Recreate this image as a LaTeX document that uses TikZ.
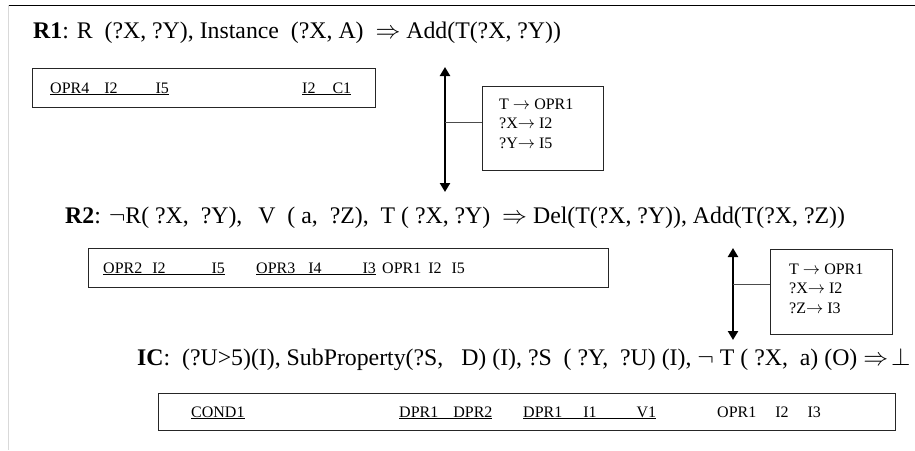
\documentclass[tikz,border=0pt]{standalone}
\usepackage{fontspec}
\setmainfont{Liberation Serif}
\usetikzlibrary{arrows.meta}
\begin{document}
\begin{tikzpicture}[x=1pt,y=-1pt,
  rule/.style={font=\fontsize{23.8}{26}\selectfont, anchor=base west, inner sep=0pt},
  cell/.style={font=\fontsize{16}{18}\selectfont, anchor=base west, inner sep=0pt},
  frame/.style={draw=black!85, line width=1pt, inner sep=0pt, anchor=north west},
  maptext/.style={font=\fontsize{16}{19.5}\selectfont, align=left, anchor=base west, inner sep=0pt},
  link/.style={line width=2.6pt, {Triangle[length=9pt,width=10pt]}-{Triangle[length=9pt,width=10pt]}},
  tie/.style={line width=0.9pt, draw=black!70}]
\useasboundingbox (0,0) rectangle (915,450);
% page rules
\draw[line width=1pt] (8,5) -- (915,5);
\draw[black!15, line width=1pt] (8,5) -- (8,450);

% ---- rule R1 ----
\node[rule] (r1) at (33,38)
  {\textbf{R1}: R\ \ (?X, ?Y), Instance\ \ (?X, A)\ \ $\Rightarrow$ Add(T(?X, ?Y))};
\node[frame, minimum width=343pt, minimum height=39pt] (b1) at (32,68) {};
\node[cell] (b1a) at (50,93) {\underline{OPR4\hspace{15pt}I2\hspace{38pt}I5}};
\node[cell] (b1b) at (302,93) {\underline{I2\hspace{17pt}C1}};

\coordinate (a1t) at (445,67);
\coordinate (a1b) at (445,192);
\draw[link] (a1t) -- (a1b);
\node[frame, minimum width=121pt, minimum height=84pt] (m1) at (482,86) {};
\coordinate (a1m) at (445,122);
\draw[tie] (a1m) -- (a1m -| m1.west);
% base anchor of a multi-line node sits on its last line
\node[maptext] (m1t) at (499,148) {T $\rightarrow$ OPR1\\?X$\rightarrow$ I2\\?Y$\rightarrow$ I5};

% ---- rule R2 ----
\node[rule] (r2) at (65,223)
  {\textbf{R2}: $\neg$R( ?X,\ \ ?Y),\hspace{16pt}V\ \ ( a,\ \ ?Z),\ \ T ( ?X, ?Y)\ \ $\Rightarrow$ Del(T(?X, ?Y)), Add(T(?X, ?Z))};
\node[frame, minimum width=520pt, minimum height=39pt] (b2) at (88,248) {};
\node[cell] (b2a) at (103,273) {\underline{OPR2\hspace{10pt}I2\hspace{46pt}I5}};
\node[cell] (b2b) at (256,273) {\underline{OPR3\hspace{13pt}I4\hspace{41pt}I3}};
\node[cell] (b2c) at (382,273) {OPR1\hspace{7pt}I2\hspace{10pt}I5};

\coordinate (a2t) at (733,248);
\coordinate (a2b) at (733,340);
\draw[link] (a2t) -- (a2b);
\node[frame, minimum width=122pt, minimum height=85pt] (m2) at (770,249) {};
\coordinate (a2m) at (733,284);
\draw[tie] (a2m) -- (a2m -| m2.west);
\node[maptext] (m2t) at (789,313) {T $\rightarrow$ OPR1\\?X$\rightarrow$ I2\\?Z$\rightarrow$ I3};

% ---- integrity constraint ----
\node[rule] (ic) at (137,365)
  {\textbf{IC}:\ \ (?U>5)(I), SubProperty(?S,\ \ \ D) (I), ?S\ \ ( ?Y,\ \ ?U) (I), $\neg$ T ( ?X,\ \ a) (O) $\Rightarrow\!\bot$};
\node[frame, minimum width=737pt, minimum height=37pt] (b3) at (158,393) {};
\node[cell] (b3a) at (191,417) {\underline{COND1}};
\node[cell] (b3b) at (399,417) {\underline{DPR1\hspace{15pt}DPR2}};
\node[cell] (b3c) at (523,417) {\underline{DPR1\hspace{21pt}I1\hspace{40pt}V1}};
\node[cell] (b3d) at (717,417) {OPR1\hspace{19pt}I2\hspace{19pt}I3};
\end{tikzpicture}
\end{document}
